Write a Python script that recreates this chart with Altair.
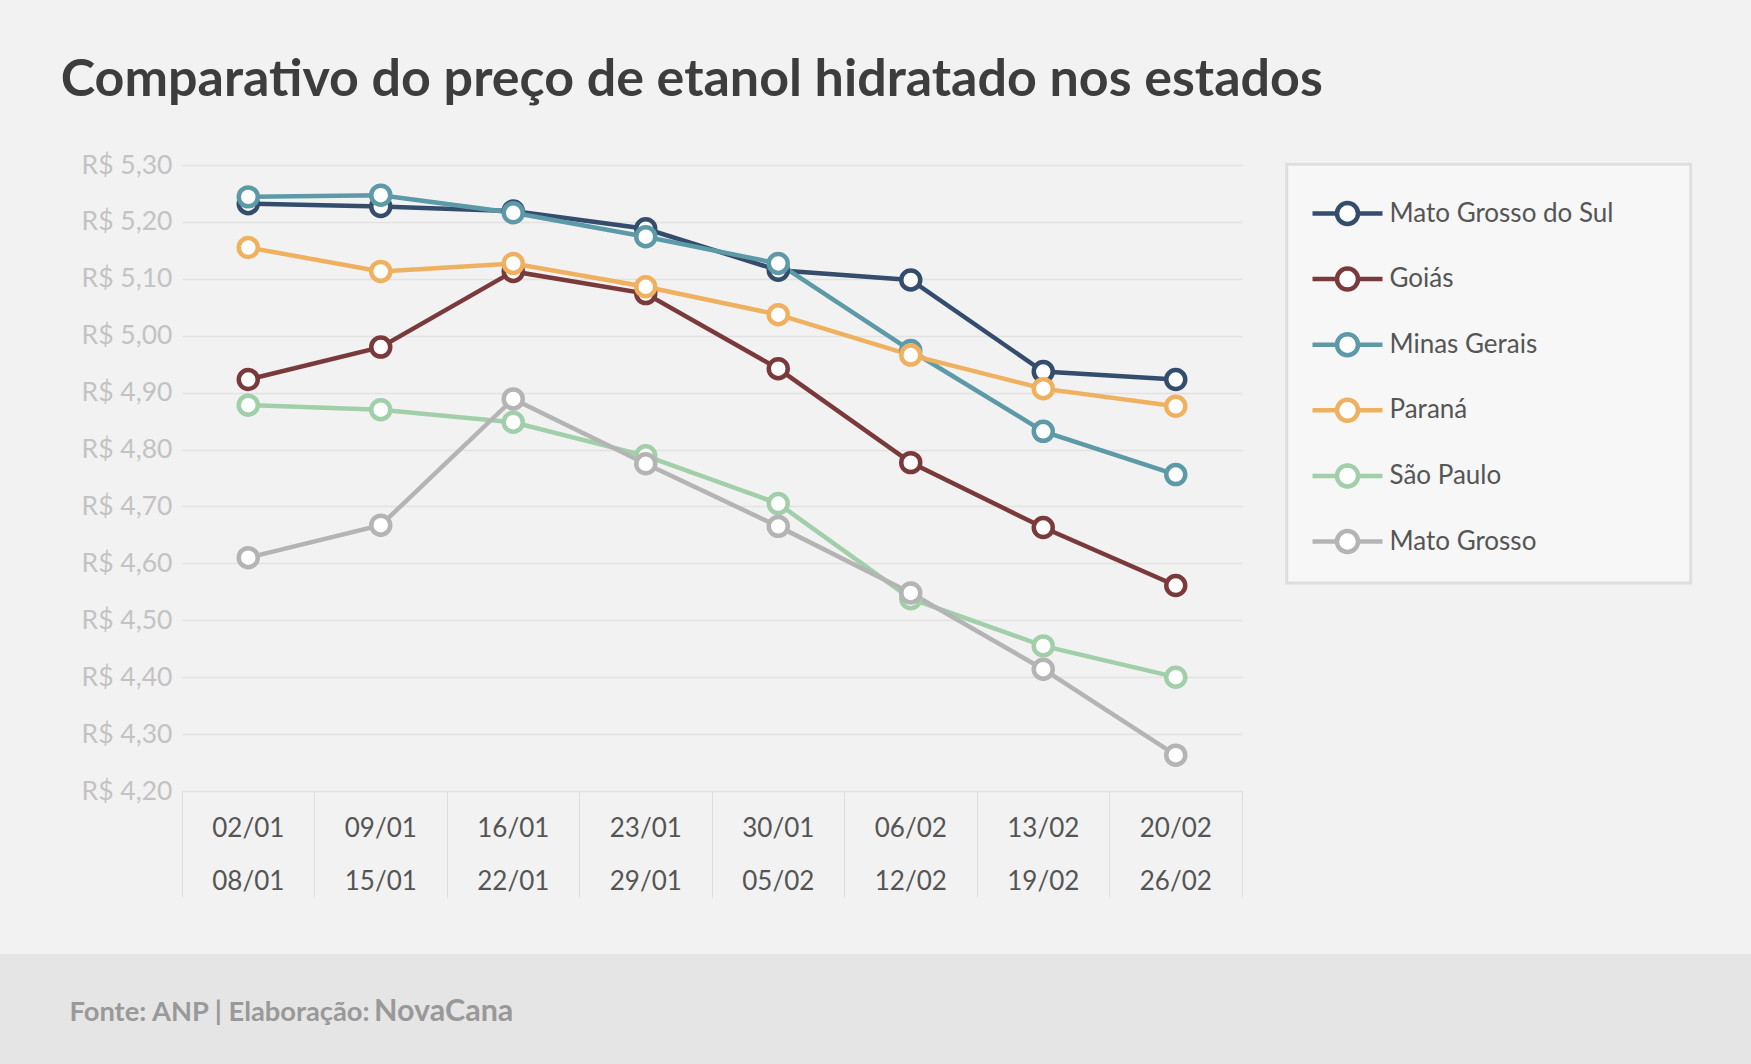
import altair as alt
import pandas as pd

# ---- data ----
semanas_inicio = ["02/01", "09/01", "16/01", "23/01", "30/01", "06/02", "13/02", "20/02"]
semanas_fim = ["08/01", "15/01", "22/01", "29/01", "05/02", "12/02", "19/02", "26/02"]

estados = ["Mato Grosso do Sul", "Goiás", "Minas Gerais", "Paraná", "São Paulo", "Mato Grosso"]
cores = ["#344d6c", "#7a3a3b", "#5c9aa7", "#efb15f", "#a1cfa9", "#b4b4b4"]

mato_grosso_do_sul = [5.232, 5.227, 5.219, 5.188, 5.115, 5.098, 4.937, 4.923]
goias = [4.923, 4.980, 5.113, 5.074, 4.942, 4.777, 4.663, 4.561]
minas_gerais = [5.244, 5.247, 5.216, 5.174, 5.127, 4.974, 4.832, 4.756]
parana = [5.155, 5.113, 5.127, 5.086, 5.037, 4.966, 4.907, 4.876]
sao_paulo = [4.878, 4.870, 4.848, 4.789, 4.705, 4.538, 4.455, 4.400]
mato_grosso = [4.610, 4.667, 4.889, 4.775, 4.665, 4.548, 4.414, 4.263]

y_ticks = [4.2, 4.3, 4.4, 4.5, 4.6, 4.7, 4.8, 4.9, 5.0, 5.1, 5.2, 5.3]

series = [mato_grosso_do_sul, goias, minas_gerais, parana, sao_paulo, mato_grosso]
semanas = [a + "|" + b for a, b in zip(semanas_inicio, semanas_fim)]

rows = []
for est, vals in zip(estados, series):
    for sem, v in zip(semanas, vals):
        rows.append({"estado": est, "semana": sem, "preco": v})
df = pd.DataFrame(rows)

W, H = 1060, 626
PAD_L, PAD_T = 182, 165
PAD_R, PAD_B = 1751 - PAD_L - W, 1064 - PAD_T - H

FONT = "Lato"

legend_path = ("M-1,0L-0.3,0M0.3,0L1,0"
               "M-0.3,0A0.3,0.3,0,1,0,0.3,0A0.3,0.3,0,1,0,-0.3,0Z")

x_enc = alt.X(
    "semana:N",
    sort=semanas,
    scale=alt.Scale(type="band", paddingInner=0, paddingOuter=0),
    axis=alt.Axis(
        title=None,
        labelExpr="isValid(datum.value) ? split(datum.value, '|') : ''",
        labelAngle=0,
        labelFont=FONT,
        labelFontSize=26,
        labelColor="#555555",
        labelLineHeight=53,
        labelPadding=-82,
        labelBaseline="top",
        bandPosition=1,
        tickExtra=True,
        tickSize=106,
        tickColor="#dddddd",
        tickWidth=1,
        domain=False,
        grid=False,
    ),
)

y_enc = alt.Y(
    "preco:Q",
    scale=alt.Scale(domain=[4.2, 5.3], nice=False, zero=False),
    axis=alt.Axis(
        title=None,
        values=y_ticks,
        labelExpr="'R$ ' + replace(format(datum.value, '.2f'), '.', ',')",
        labelFont=FONT,
        labelFontSize=26.5,
        labelColor="#c3c3c3",
        labelPadding=10,
        ticks=False,
        domain=False,
        grid=True,
        gridColor="#e2e2e2",
        gridWidth=1.5,
    ),
)

base = alt.Chart(df)

lines = base.mark_line(strokeWidth=4.5).encode(
    x=x_enc,
    y=y_enc,
    color=alt.Color(
        "estado:N",
        sort=estados,
        scale=alt.Scale(domain=estados, range=cores),
        legend=alt.Legend(
            title=None,
            orient="none",
            legendX=1128,
            legendY=11,
            symbolType=legend_path,
            symbolSize=4900,
            symbolStrokeWidth=4.5,
            symbolFillColor="white",
            labelFont=FONT,
            labelFontSize=26,
            labelColor="#555555",
            labelOffset=4.5,
            labelLimit=500,
            rowPadding=8.6,
            padding=0,
        ),
    ),
    detail="estado:N",
)

points = base.mark_point(filled=True, fill="white", size=360, strokeWidth=4.5, opacity=1).encode(
    x=x_enc,
    y=y_enc,
    stroke=alt.Stroke("estado:N", scale=alt.Scale(domain=estados, range=cores), legend=None),
)

one = alt.Data(values=[{}])

legend_box = alt.Chart(one).mark_rect(fill="#f7f7f7", stroke="#dedede", strokeWidth=3).encode(
    x=alt.value(1104.7), x2=alt.value(1508.7), y=alt.value(-0.7), y2=alt.value(418)
)

footer_band = alt.Chart(one).mark_rect(fill="#e5e5e5").encode(
    x=alt.value(-PAD_L), x2=alt.value(W + PAD_R), y=alt.value(954 - PAD_T), y2=alt.value(H + PAD_B)
)

footer_1 = alt.Chart(one).mark_text(
    text="Fonte: ANP | Elaboração:", font=FONT, fontWeight="bold", fontSize=27.3,
    color="#999999", align="left", baseline="alphabetic"
).encode(x=alt.value(69.5 - PAD_L), y=alt.value(1020.7 - PAD_T))

footer_2 = alt.Chart(one).mark_text(
    text="NovaCana", font=FONT, fontWeight="bold", fontSize=30.5,
    color="#999999", align="left", baseline="alphabetic"
).encode(x=alt.value(374 - PAD_L), y=alt.value(1020.7 - PAD_T))

chart = alt.layer(footer_band, legend_box, lines, points, footer_1, footer_2).properties(
    width=W,
    height=H,
    padding={"left": PAD_L, "top": PAD_T, "right": PAD_R, "bottom": PAD_B},
    autosize=alt.AutoSizeParams(type="none"),
    background="#f2f2f2",
    title=alt.TitleParams(
        text="Comparativo do preço de etanol hidratado nos estados",
        anchor="start",
        frame="group",
        dx=60.7 - PAD_L,
        offset=45,
        font=FONT,
        fontSize=52,
        fontWeight="bold",
        color="#3d3d3d",
    ),
).configure_view(stroke="transparent")

chart.save("out.html", embed_options={"renderer": "svg", "actions": False})
